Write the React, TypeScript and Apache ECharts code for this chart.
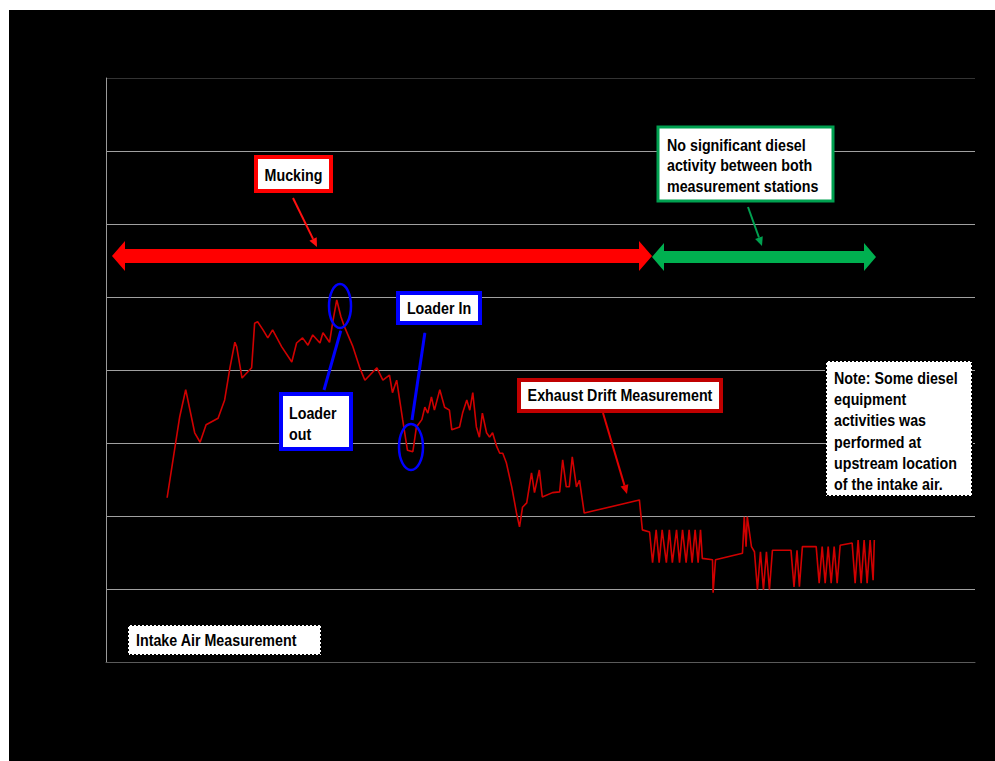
import React, { useEffect, useRef } from "react";
import * as echarts from "echarts";

// Time (min) and concentration readings of the exhaust drift measurement
const times: number[] = [
  10.2, 12.3, 13.3, 14.8, 15.7, 16.7, 18.7, 19.8, 20.7, 21.5,
  21.8, 22.7, 24.3, 24.8, 25.3, 26.2, 27.0, 27.8, 29.3, 31.0,
  31.8, 32.8, 33.7, 34.5, 35.7, 36.2, 37.3, 37.8, 38.5, 39.2,
  39.8, 41.2, 42.3, 43.2, 45.2, 46.2, 47.3, 47.8, 48.5, 49.5,
  50.3, 51.2, 51.8, 52.7, 53.2, 53.7, 54.3, 54.8, 55.7, 56.5,
  57.3, 57.7, 59.0, 59.5, 60.2, 60.7, 61.2, 61.8, 62.3, 62.8,
  63.5, 64.0, 64.5, 65.2, 65.7, 66.2, 66.8, 67.7, 68.5, 69.0,
  69.5, 70.2, 71.0, 71.5, 72.3, 72.8, 74.5, 75.7, 76.2, 76.8,
  77.3, 77.8, 78.5, 79.0, 79.8, 89.0, 89.5, 90.7,
  91.2, 91.8, 92.3, 92.8, 93.5, 94.0, 94.5, 95.2, 95.7, 96.2,
  96.8, 97.3, 97.8, 98.3, 98.8, 99.2, 99.5,
  101.2, 101.3, 101.7, 106.2, 106.5, 106.8, 107.0, 107.7, 108.2,
  108.7, 109.2, 109.7, 110.2, 110.7, 111.2, 114.3, 114.8, 115.3, 115.7,
  116.2, 118.5, 119.0, 119.5, 120.0, 120.5, 121.0, 121.5, 122.0, 122.5,
  124.5, 125.0, 125.5, 126.0, 126.5, 127.0, 127.5, 128.0, 128.2,
];

const values: number[] = [
  225, 336, 373, 314, 301, 325, 334, 359, 404, 438,
  432, 389, 403, 464, 466, 455, 444, 455, 432, 411,
  437, 444, 434, 448, 437, 451, 438, 464, 496, 473,
  459, 432, 404, 386, 403, 386, 393, 369, 386, 332,
  290, 288, 322, 332, 349, 341, 363, 345, 373, 349,
  345, 318, 322, 341, 359, 345, 369, 322, 308, 341,
  314, 308, 314, 295, 286, 286, 273, 240, 204, 185,
  212, 218, 259, 232, 263, 226, 232, 233, 277, 240,
  240, 281, 240, 249, 204, 222, 181, 178,
  136, 181, 136, 181, 136, 181, 136, 181, 136, 181,
  136, 181, 136, 181, 136, 181, 142,
  140, 95, 140, 149, 199, 158, 199, 158, 151,
  99, 151, 99, 151, 99, 153, 153, 103, 153, 103,
  158, 158, 108, 158, 108, 158, 108, 158, 108, 160,
  163, 108, 167, 108, 167, 108, 167, 112, 167,
];

const yTicks: number[] = [0, 100, 200, 300, 400, 500, 600, 700, 800];

const noteLines: string[] = [
  "Note: Some diesel",
  "equipment",
  "activities was",
  "performed at",
  "upstream location",
  "of the intake air.",
];
const greenLines: string[] = [
  "No significant diesel",
  "activity between both",
  "measurement stations",
];

const OX = 9;
const OY = 10;
const FONT = "'Liberation Sans', Arial, sans-serif";

const px = (x: number) => x - OX;
const py = (y: number) => y - OY;

function box(x1: number, y1: number, x2: number, y2: number, stroke: string, lw: number, dash?: number[]) {
  return {
    type: "rect",
    z: 10,
    shape: { x: px(x1), y: py(y1), width: x2 - x1, height: y2 - y1 },
    style: { fill: "#ffffff", stroke, lineWidth: lw, lineDash: dash },
  };
}

function txt(s: string, x: number, y: number, align: string = "left") {
  return {
    type: "text",
    z: 11,
    x: px(x),
    y: py(y),
    scaleX: 0.84,
    style: {
      text: s,
      fill: "#000000",
      fontSize: 17,
      fontWeight: "bold",
      fontFamily: FONT,
      align,
      verticalAlign: "middle",
    },
  };
}

function arrowLine(x1: number, y1: number, x2: number, y2: number, color: string, w: number, head: number) {
  const dx = x2 - x1;
  const dy = y2 - y1;
  const len = Math.sqrt(dx * dx + dy * dy);
  const ux = dx / len;
  const uy = dy / len;
  const bx = x2 - ux * head;
  const by = y2 - uy * head;
  const nx = -uy * head * 0.45;
  const ny = ux * head * 0.45;
  return [
    {
      type: "line",
      z: 9,
      shape: { x1: px(x1), y1: py(y1), x2: px(bx), y2: py(by) },
      style: { stroke: color, lineWidth: w },
    },
    {
      type: "polygon",
      z: 9,
      shape: {
        points: [
          [px(x2), py(y2)],
          [px(bx + nx), py(by + ny)],
          [px(bx - nx), py(by - ny)],
        ],
      },
      style: { fill: color },
    },
  ];
}

function doubleArrow(xl: number, xr: number, yc: number, shaft: number, headH: number, headL: number, color: string) {
  const pts = [
    [xl, yc],
    [xl + headL, yc - headH],
    [xl + headL, yc - shaft],
    [xr - headL, yc - shaft],
    [xr - headL, yc - headH],
    [xr, yc],
    [xr - headL, yc + headH],
    [xr - headL, yc + shaft],
    [xl + headL, yc + shaft],
    [xl + headL, yc + headH],
  ].map(([x, y]) => [px(x), py(y)]);
  return { type: "polygon", z: 8, shape: { points: pts }, style: { fill: color } };
}

export default function App() {
  const ref = useRef<HTMLDivElement>(null);

  useEffect(() => {
    if (!ref.current) return;
    const chart = echarts.init(ref.current, undefined, { renderer: "svg" });
    const data = times.map((t, i) => [t, values[i]]);

    const graphic: any[] = [
      doubleArrow(112, 652, 256, 7, 15, 13, "#ff0000"),
      doubleArrow(652, 876, 257, 6, 14, 12, "#00b050"),
      ...arrowLine(293, 198, 317, 247, "#ff1010", 2, 9),
      ...arrowLine(748, 207, 762, 246, "#00a050", 2, 9),
      ...arrowLine(603, 413, 627, 494, "#e00000", 2, 9),
      ...arrowLine(324, 390, 341, 330, "#0000ff", 3, 1),
      ...arrowLine(412, 420, 425, 332, "#0000ff", 3, 1),
      {
        type: "ellipse",
        z: 9,
        shape: { cx: px(340), cy: py(306), rx: 11, ry: 22 },
        style: { fill: "none", stroke: "#0000ff", lineWidth: 2.5 },
      },
      {
        type: "ellipse",
        z: 9,
        shape: { cx: px(411), cy: py(447), rx: 12, ry: 23 },
        style: { fill: "none", stroke: "#0000ff", lineWidth: 2.5 },
      },
      box(256, 157, 331, 191, "#ff0000", 4),
      txt("Mucking", 293.5, 175, "center"),
      box(658, 127, 833, 201, "#00a050", 3),
      ...greenLines.map((s, i) => txt(s, 667, 145 + i * 20.5)),
      box(281, 394, 351, 449, "#0000ff", 4),
      txt("Loader", 289, 413),
      txt("out", 289, 434),
      box(398, 293, 480, 323, "#0000ff", 4),
      txt("Loader In", 439, 308, "center"),
      box(519, 380, 721, 411, "#c00000", 4),
      txt("Exhaust Drift Measurement", 620, 395.5, "center"),
      box(826, 361, 972, 496, "#000000", 2, [2, 2]),
      ...noteLines.map((s, i) => txt(s, 834, 378 + i * 21.2)),
      box(128, 625, 321, 655, "#000000", 2, [2, 2]),
      txt("Intake Air Measurement", 136, 640),
    ];

    chart.setOption({
      animation: false,
      backgroundColor: "#000000",
      grid: { left: 97, right: 20, top: 68, bottom: 99, containLabel: false },
      xAxis: {
        type: "value",
        min: 0,
        max: 145,
        axisLine: { show: true, lineStyle: { color: "#5a5a5a", width: 1 } },
        axisTick: { show: false },
        axisLabel: { show: false },
        splitLine: { show: false },
      },
      yAxis: {
        type: "value",
        min: yTicks[0],
        max: yTicks[yTicks.length - 1],
        interval: 100,
        axisLine: { show: true, lineStyle: { color: "#9a9a9a", width: 1 } },
        axisTick: { show: false },
        axisLabel: { show: false },
        splitLine: {
          show: true,
          lineStyle: {
            color: ["#5a5a5a", "#a0a0a0", "#a0a0a0", "#a0a0a0", "#a0a0a0", "#a0a0a0", "#a0a0a0", "#a0a0a0", "#333333"],
            width: 1,
          },
        },
      },
      series: [
        {
          type: "line",
          data,
          showSymbol: false,
          symbol: "none",
          lineStyle: { color: "#d00000", width: 1.6 },
          z: 3,
        },
      ],
      graphic,
    });

    return () => chart.dispose();
  }, []);

  return (
    <div
      ref={ref}
      style={{ position: "absolute", left: OX, top: OY, width: 986, height: 751, background: "#000" }}
    />
  );
}
